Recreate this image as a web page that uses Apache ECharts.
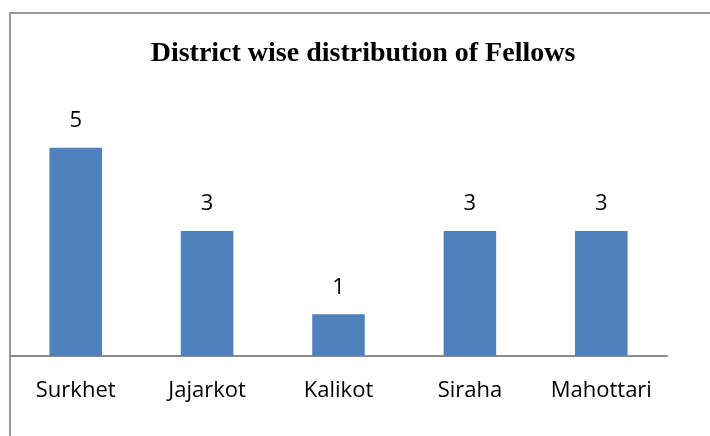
<!DOCTYPE html>
<html><head><meta charset="utf-8">
<script src="https://cdn.jsdelivr.net/npm/echarts@6/dist/echarts.min.js"></script>
<style>html,body{margin:0;padding:0;background:#fff}#c{width:710px;height:436px}</style>
</head><body><div id="c"></div>
<script>
const categories = ['Surkhet', 'Jajarkot', 'Kalikot', 'Siraha', 'Mahottari'];
const fellows = [5, 3, 1, 3, 3];
const chartTitle = 'District wise distribution of Fellows';

const chart = echarts.init(document.getElementById('c'));
chart.setOption({
  animation: false,
  backgroundColor: '#fff',
  title: {
    text: chartTitle, left: 358, top: 35, textAlign: 'center',
    textStyle: { fontFamily: 'Liberation Serif', fontWeight: 'bold', fontSize: 28, color: '#000' }
  },
  graphic: [{
    type: 'polyline', shape: { points: [[10, 440], [10, 13], [712, 13]] },
    style: { stroke: '#9a9a9a', lineWidth: 2, fill: null }
  }],
  grid: { left: 10, right: 43, top: 106, bottom: 80, containLabel: false },
  xAxis: {
    type: 'category', data: categories,
    axisLine: { lineStyle: { color: '#8c8c8c', width: 2 } },
    axisTick: { show: false },
    axisLabel: { interval: 0, fontFamily: 'Open Sans', fontSize: 22, color: '#000', margin: 24 }
  },
  yAxis: { type: 'value', min: 0, max: 6, show: false, splitLine: { show: false } },
  series: [{
    type: 'bar', data: fellows, barWidth: '40%',
    itemStyle: { color: '#4f81bd' },
    label: { show: true, position: 'top', distance: 16, fontFamily: 'Open Sans', fontSize: 22, color: '#000' }
  }]
});
</script></body></html>
